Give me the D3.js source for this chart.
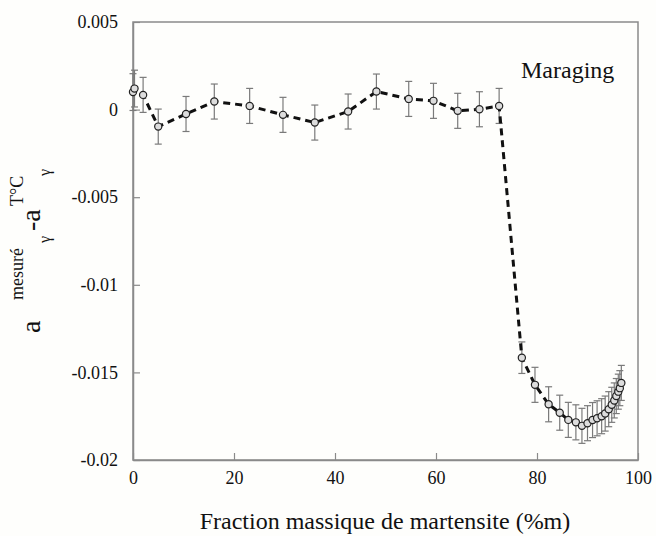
<!DOCTYPE html>
<html>
<head>
<meta charset="utf-8">
<script src="https://cdn.jsdelivr.net/npm/d3@7"></script>
<style>
  html, body { margin: 0; padding: 0; background: #fefefc; }
  svg text { font-family: "Liberation Serif", "Times New Roman", Times, "DejaVu Serif", serif; }
</style>
</head>
<body>
<div id="chart-container"></div>
<script>
// Martensite mass fraction (%m)
const fraction = [0, 0.3, 2.0, 5.0, 10.5, 16.1, 23.1, 29.7, 36.0, 42.6, 48.2, 54.6, 59.5, 64.3, 68.6, 72.5,
  77.0, 79.6, 82.3, 84.5, 86.2, 87.7, 88.9, 90.0, 91.0, 91.9, 92.8, 93.5, 94.2, 94.8, 95.3, 95.7, 96.1, 96.4, 96.7];
// a(mesuré) - a(T°C) for the gamma phase
const deltaA = [0.0010, 0.0012, 0.00084, -0.00097, -0.00025, 0.00046, 0.00021, -0.0003, -0.00074, -0.00011, 0.00103,
  0.00061, 0.0005, -0.00007, 0.00002, 0.00021,
  -0.01416, -0.01571, -0.01682, -0.0173, -0.01771, -0.01785, -0.01805, -0.0179, -0.01772, -0.01762, -0.0175,
  -0.01735, -0.0171, -0.01685, -0.0166, -0.01635, -0.0161, -0.0159, -0.0156];
// error bar half-widths
const errors = [0.00105, 0.00105, 0.001, 0.001, 0.001, 0.001, 0.001, 0.001, 0.001, 0.001, 0.001,
  0.001, 0.001, 0.001, 0.001, 0.001,
  0.0009, 0.001, 0.001, 0.001, 0.001, 0.001, 0.001, 0.001, 0.001, 0.001, 0.001,
  0.001, 0.001, 0.001, 0.001, 0.001, 0.001, 0.001, 0.001];
const xTicks = [0, 20, 40, 60, 80, 100];
const yTicks = [0.005, 0, -0.005, -0.01, -0.015, -0.02];

const data = fraction.map((f, i) => ({ x: f, y: deltaA[i], e: errors[i] }));

const width = 656, height = 536;
const plot = { left: 133, right: 638, top: 22, bottom: 460 };
const serif = "'Liberation Serif', 'Times New Roman', Times, 'DejaVu Serif', serif";

const svg = d3.select("#chart-container")
  .append("svg")
  .attr("width", width)
  .attr("height", height)
  .attr("font-family", serif);

const xScale = d3.scaleLinear().domain([0, 100]).range([plot.left, plot.right]);
const yScale = d3.scaleLinear().domain([-0.02, 0.005]).range([plot.bottom, plot.top]);

// frame
svg.append("rect")
  .attr("x", plot.left).attr("y", plot.top)
  .attr("width", plot.right - plot.left).attr("height", plot.bottom - plot.top)
  .attr("fill", "none").attr("stroke", "#8a8a8a").attr("stroke-width", 1.5);

// axes
const fmt = d => d === 0 ? "0" : String(+d.toFixed(3));
const yAxis = svg.append("g")
  .attr("transform", `translate(${plot.left},0)`)
  .call(d3.axisLeft(yScale).tickValues(yTicks).tickFormat(fmt)
    .tickSizeInner(-7).tickSizeOuter(0).tickPadding(15));
const xAxis = svg.append("g")
  .attr("transform", `translate(0,${plot.bottom})`)
  .call(d3.axisBottom(xScale).tickValues(xTicks).tickFormat(d3.format("d"))
    .tickSizeInner(-7).tickSizeOuter(0).tickPadding(11));

[xAxis, yAxis].forEach(ax => {
  ax.attr("font-family", serif).attr("font-size", 18);
  ax.select(".domain").attr("stroke", "#8a8a8a").attr("stroke-width", 1.5);
  ax.selectAll(".tick line").attr("stroke", "#8a8a8a").attr("stroke-width", 1.2);
  ax.selectAll(".tick text").attr("fill", "#111");
});

// error bars
const bars = svg.append("g").attr("stroke", "#7a7a7a").attr("stroke-width", 1.2);
bars.selectAll(".err")
  .data(data)
  .enter().append("line")
  .attr("x1", d => xScale(d.x)).attr("x2", d => xScale(d.x))
  .attr("y1", d => yScale(d.y + d.e)).attr("y2", d => yScale(d.y - d.e));
bars.selectAll(".capTop")
  .data(data)
  .enter().append("line")
  .attr("x1", d => xScale(d.x) - 3.5).attr("x2", d => xScale(d.x) + 3.5)
  .attr("y1", d => yScale(d.y + d.e)).attr("y2", d => yScale(d.y + d.e));
bars.selectAll(".capBottom")
  .data(data)
  .enter().append("line")
  .attr("x1", d => xScale(d.x) - 3.5).attr("x2", d => xScale(d.x) + 3.5)
  .attr("y1", d => yScale(d.y - d.e)).attr("y2", d => yScale(d.y - d.e));

// dashed line through the points
const line = d3.line()
  .x(d => xScale(d.x))
  .y(d => yScale(d.y));

svg.append("path")
  .datum(data)
  .attr("d", line)
  .attr("fill", "none")
  .attr("stroke", "#111")
  .attr("stroke-width", 3)
  .attr("stroke-dasharray", "7,5");

// markers
svg.selectAll(".pt")
  .data(data)
  .enter().append("circle")
  .attr("cx", d => xScale(d.x))
  .attr("cy", d => yScale(d.y))
  .attr("r", 3.6)
  .attr("fill", "#ddd")
  .attr("stroke", "#222")
  .attr("stroke-width", 1.2);

// label inside plot
svg.append("text")
  .attr("x", 521).attr("y", 78)
  .attr("fill", "#111")
  .attr("font-size", 24)
  .text("Maraging");

// x axis title
svg.append("text")
  .attr("x", 385)
  .attr("y", 529)
  .attr("text-anchor", "middle")
  .attr("fill", "#111")
  .attr("font-size", 24)
  .text("Fraction massique de martensite (%m)");

// y axis title: a_γ^mesuré - a_γ^T°C
const yTitle = svg.append("text")
  .attr("transform", "translate(40,333) rotate(-90)")
  .attr("fill", "#111");
yTitle.append("tspan").attr("x", 0).attr("y", 0).attr("font-size", 28).text("a");
yTitle.append("tspan").attr("x", 33).attr("y", -17).attr("font-size", 18).text("mesuré");
yTitle.append("tspan").attr("x", 90).attr("y", 10).attr("font-size", 16).text("γ");
yTitle.append("tspan").attr("x", 102).attr("y", 0).attr("font-size", 28).text("-a");
yTitle.append("tspan").attr("x", 127).attr("y", -17).attr("font-size", 18).text("T°C");
yTitle.append("tspan").attr("x", 157).attr("y", 10).attr("font-size", 16).text("γ");
</script>
</body>
</html>
